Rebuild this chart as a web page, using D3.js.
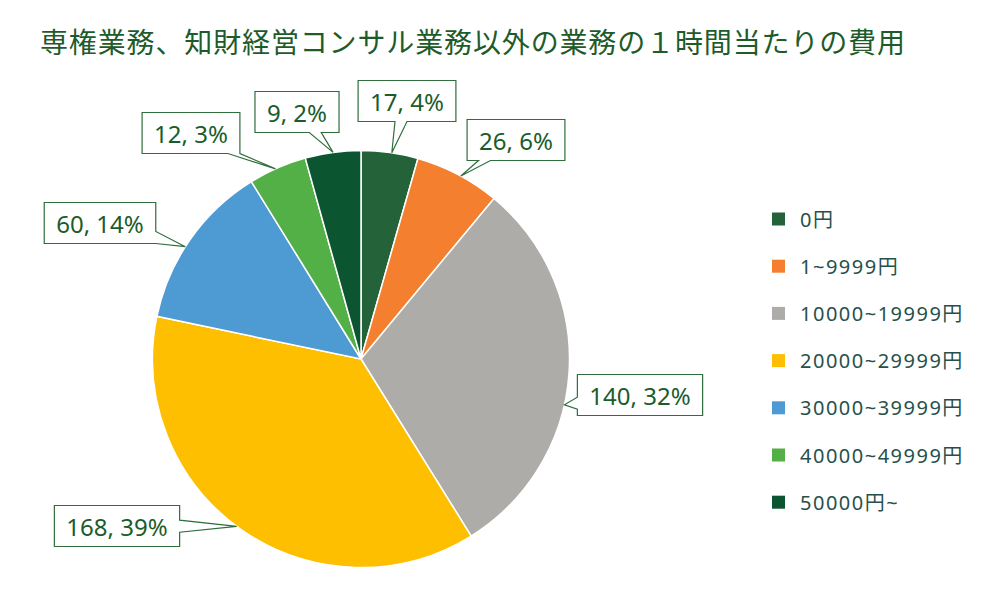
<!DOCTYPE html>
<html>
<head>
<meta charset="utf-8">
<script src="https://cdn.jsdelivr.net/npm/d3@7"></script>
<style>
  html, body { margin: 0; padding: 0; background: #fff; }
  svg { display: block; }
</style>
</head>
<body>
<div id="chart"></div>
<script>
const title= '専権業務、知財経営コンサル業務以外の業務の１時間当たりの費用';
const categories= ['0円', '1~9999円', '10000~19999円', '20000~29999円', '30000~39999円', '40000~49999円', '50000円~'];
const counts= [17, 26, 140, 168, 60, 12, 9];
// slice sizes as drawn in the source picture (% of the circle); they do not quite follow the labelled counts
const drawnShares= [4.4, 6.6, 30.1, 37.1, 12.9, 4.5, 4.3];
const colors= ['#24633a', '#f47f2e', '#adaca8', '#fdbf00', '#4e9ad3', '#52b047', '#0b5530'];

// callout placement: box centre offset from pie centre, and where the pointer meets the rim (deg from 12 o'clock)
const calloutLayout= [
  { dx:   46, dy: -258, tip:   8.5 },
  { dx:  155, dy: -219, tip:  28.6 },
  { dx:  279, dy:   36, tip: 102.7 },
  { dx: -244, dy:  167, tip: 216.6 },
  { dx: -261, dy: -136, tip: 302.6 },
  { dx: -170, dy: -226, tip: 335.8 },
  { dx:  -64, dy: -247, tip: 352.3 }
];

const W= 1000, H= 615;
const cx= 361, cy= 359, R= 208.5;
const FONT= '"Noto Sans", "Noto Sans CJK JP", sans-serif';

const svg= d3.select('#chart').append('svg')
  .attr('width', W).attr('height', H);

svg.append('text')
  .attr('x', 40).attr('y', 53)
  .attr('font-family', '"Noto Sans CJK JP", sans-serif')
  .attr('font-size', 28)
  .attr('textLength', 865)
  .attr('fill', '#1e5b2b')
  .text(title);

const total= d3.sum(counts);
const pct= d3.format('.0%');
const pie= d3.pie().sort(null).value(d => d)(drawnShares);
const arc= d3.arc().innerRadius(0).outerRadius(R);

const g= svg.append('g').attr('transform', `translate(${cx},${cy})`);

g.selectAll('path.slice')
  .data(pie)
  .join('path')
  .attr('class', 'slice')
  .attr('d', arc)
  .attr('fill', (d, i) => colors[i])
  .attr('stroke', '#fff')
  .attr('stroke-width', 1.5);

// callouts
function calloutPath(x0, y0, x1, y1, tx, ty) {
  const mx= (x0+x1)/2, my= (y0+y1)/2, hw= (x1-x0)/2, hh= (y1-y0)/2;
  const vx= tx-mx, vy= ty-my;
  const s= 6;
  const cl= (v, a, b) => Math.max(a, Math.min(b, v));
  let pts;
  if (Math.abs(vx)/hw > Math.abs(vy)/hh) {
    const py= cl(my + vy*(hw/Math.abs(vx)), y0+s, y1-s);
    if (vx > 0) pts= [[x0,y0],[x1,y0],[x1,py-s],[tx,ty],[x1,py+s],[x1,y1],[x0,y1]];
    else pts= [[x0,y0],[x1,y0],[x1,y1],[x0,y1],[x0,py+s],[tx,ty],[x0,py-s]];
  } else {
    const px= cl(mx + vx*(hh/Math.abs(vy)), x0+s, x1-s);
    if (vy > 0) pts= [[x0,y0],[x1,y0],[x1,y1],[px+s,y1],[tx,ty],[px-s,y1],[x0,y1]];
    else pts= [[x0,y0],[px-s,y0],[tx,ty],[px+s,y0],[x1,y0],[x1,y1],[x0,y1]];
  }
  return 'M' + pts.map(p => p.join(',')).join('L') + 'Z';
}

const labels= svg.append('g');
counts.forEach((v, i) => {
  const L= calloutLayout[i];
  const bx= cx+L.dx, by= cy+L.dy;
  const a= L.tip*Math.PI/180;
  const tx= cx+R*Math.sin(a), ty= cy-R*Math.cos(a);

  const lg= labels.append('g');
  const path= lg.append('path')
    .attr('fill', '#fff')
    .attr('stroke', '#2f6e3c')
    .attr('stroke-width', 1.2);
  const t= lg.append('text')
    .attr('x', bx).attr('y', by)
    .attr('text-anchor', 'middle')
    .attr('dominant-baseline', 'central')
    .attr('font-family', FONT)
    .attr('font-size', 24)
    .attr('fill', '#1b5c2b')
    .text(`${v}, ${pct(v/total)}`);
  const tw= t.node().getComputedTextLength();
  const bw= tw+24, bh= 41;
  path.attr('d', calloutPath(bx-bw/2, by-bh/2, bx+bw/2, by+bh/2, tx, ty));
});

// legend
const leg= svg.append('g').attr('transform', 'translate(772,219)');
const row= leg.selectAll('g').data(categories).join('g')
  .attr('transform', (d, i) => `translate(0,${i*47.2})`);
row.append('rect')
  .attr('x', 0).attr('y', -6.5)
  .attr('width', 13).attr('height', 13)
  .attr('fill', (d, i) => colors[i]);
row.append('text')
  .attr('x', 28).attr('y', 0)
  .attr('dominant-baseline', 'central')
  .attr('font-family', FONT)
  .attr('font-size', 20)
  .attr('letter-spacing', 1.5)
  .attr('fill', '#27504c')
  .text(d => d);
</script>
</body>
</html>
